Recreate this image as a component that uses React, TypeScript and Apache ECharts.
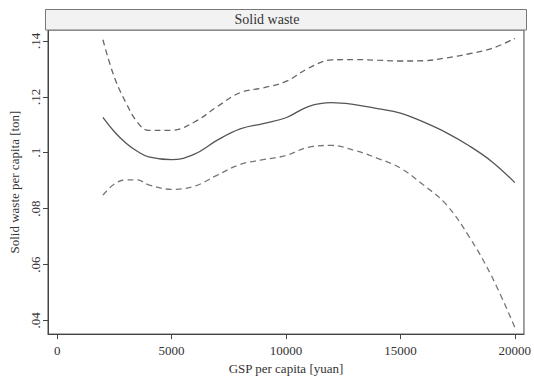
import React, { useEffect, useRef } from "react";
import * as echarts from "echarts";

const gsp = [2000, 2500, 3000, 3500, 4000, 5000, 6000, 7000, 8000, 9000, 10000, 11000, 12000, 13000, 14000, 15000, 16000, 17000, 18000, 19000, 20000];
const fitted = [0.1126, 0.1075, 0.1035, 0.1005, 0.0985, 0.0975, 0.0995, 0.1045, 0.1085, 0.1104, 0.1125, 0.1166, 0.1179, 0.1172, 0.1158, 0.1142, 0.111, 0.1072, 0.1025, 0.0968, 0.0893];
const upper = [0.1404, 0.127, 0.118, 0.111, 0.108, 0.108, 0.111, 0.1165, 0.1215, 0.1232, 0.1255, 0.1303, 0.1332, 0.1333, 0.1331, 0.1328, 0.1329, 0.1339, 0.1354, 0.1373, 0.1409];
const lower = [0.0848, 0.0888, 0.0903, 0.0903, 0.0885, 0.0869, 0.088, 0.092, 0.0958, 0.0975, 0.099, 0.102, 0.1026, 0.1008, 0.098, 0.0945, 0.0885, 0.0815, 0.07, 0.0556, 0.0375];
const xTicks = [0, 5000, 10000, 15000, 20000];
const yTicks = [0.04, 0.06, 0.08, 0.1, 0.12, 0.14];
const yTickLabels = [".04", ".06", ".08", ".1", ".12", ".14"];
const panelTitle = "Solid waste";

const FONT = "Liberation Serif";

export default function App() {
  const ref = useRef<HTMLDivElement>(null);
  useEffect(() => {
    if (!ref.current) return;
    const chart = echarts.init(ref.current, undefined, { renderer: "svg" });
    const pairs = (ys: number[]) => gsp.map((x, i) => [x, ys[i]]);
    chart.setOption({
      animation: false,
      backgroundColor: "#ffffff",
      textStyle: { fontFamily: FONT },
      title: {
        text: panelTitle,
        left: "center",
        top: 11,
        padding: 0,
        z: 20,
        textStyle: { fontFamily: FONT, fontSize: 14, fontWeight: "normal", color: "#333", lineHeight: 16 },
      },
      grid: {
        left: 45,
        right: 7.5,
        top: 30,
        bottom: 40,
        show: true,
        borderColor: "#444",
        borderWidth: 1,
        backgroundColor: "#ffffff",
      },
      xAxis: {
        type: "value",
        min: -400,
        max: 20400,
        name: "GSP per capita [yuan]",
        nameLocation: "middle",
        nameGap: 26,
        nameTextStyle: { fontFamily: FONT, fontSize: 13, color: "#333" },
        axisLine: { show: true, onZero: false, lineStyle: { color: "#444" } },
        axisTick: { show: true, length: 5, lineStyle: { color: "#444" }, customValues: xTicks },
        axisLabel: {
          fontFamily: FONT,
          fontSize: 13,
          color: "#333",
          margin: 10,
          customValues: xTicks,
          formatter: (v: number) => String(v),
        },
        splitLine: { show: false },
      },
      yAxis: {
        type: "value",
        min: 0.0351,
        max: 0.1439,
        name: "Solid waste per capita [ton]",
        nameLocation: "middle",
        nameGap: 27,
        nameRotate: 90,
        nameTextStyle: { fontFamily: FONT, fontSize: 13, color: "#333" },
        axisLine: { show: true, onZero: false, lineStyle: { color: "#444" } },
        axisTick: { show: true, length: 5, lineStyle: { color: "#444" }, customValues: yTicks },
        axisLabel: {
          fontFamily: FONT,
          fontSize: 13,
          color: "#333",
          rotate: 90,
          margin: 6,
          customValues: yTicks,
          formatter: (v: number) => {
            const i = yTicks.findIndex((t) => Math.abs(t - v) < 1e-9);
            return i >= 0 ? yTickLabels[i] : "";
          },
        },
        splitLine: { show: false },
      },
      graphic: [
        {
          type: "rect",
          shape: { x: 45.5, y: 9.5, width: 481, height: 20.5 },
          style: { fill: "#f2f2f2", stroke: "#777", lineWidth: 1 },
          z: 5,
        },
      ],
      series: [
        {
          type: "line",
          data: pairs(upper),
          smooth: 0.4,
          showSymbol: false,
          lineStyle: { color: "#666", width: 1.3, type: [6, 4] },
        },
        {
          type: "line",
          data: pairs(fitted),
          smooth: 0.4,
          showSymbol: false,
          lineStyle: { color: "#555", width: 1.3, type: "solid" },
        },
        {
          type: "line",
          data: pairs(lower),
          smooth: 0.4,
          showSymbol: false,
          lineStyle: { color: "#777", width: 1.3, type: [6, 4] },
        },
      ],
    });
    return () => chart.dispose();
  }, []);
  return (
    <div
      ref={ref}
      style={{ position: "fixed", left: 0, top: 0, width: 534, height: 380 }}
    />
  );
}
